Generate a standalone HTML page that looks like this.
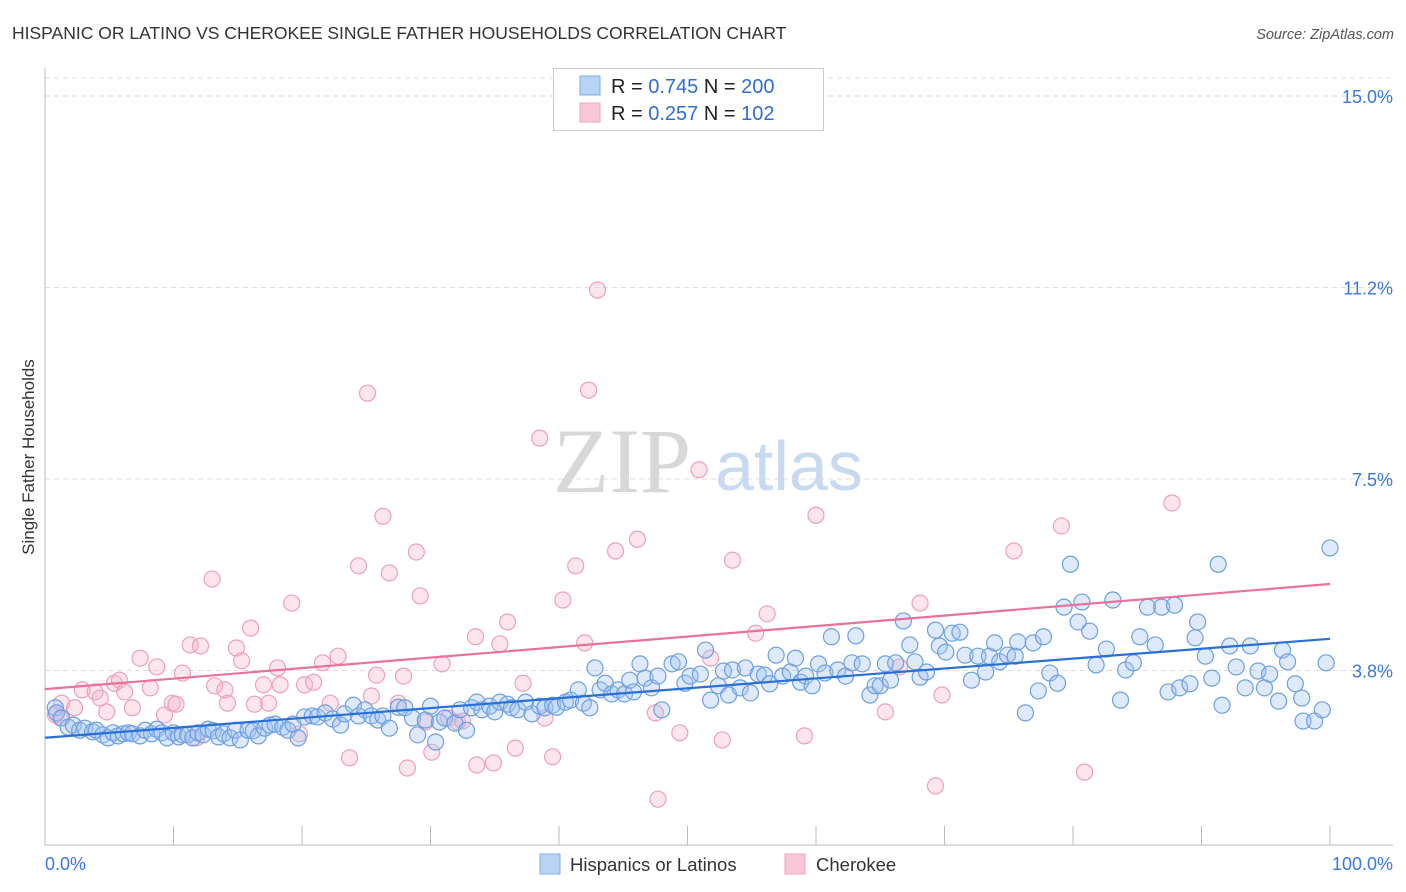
<!DOCTYPE html>
<html><head><meta charset="utf-8"><style>
body{margin:0;background:#fff;font-family:"Liberation Sans",sans-serif}
svg{display:block}
</style></head><body>
<svg id="chart" width="1406" height="892" viewBox="0 0 1406 892">
<text x="12" y="39" font-size="17.5" fill="#333">HISPANIC OR LATINO VS CHEROKEE SINGLE FATHER HOUSEHOLDS CORRELATION CHART</text>
<text x="1394" y="39" font-size="14.5" fill="#555" font-style="italic" text-anchor="end">Source: ZipAtlas.com</text>
<text transform="translate(34,457) rotate(-90)" font-size="17" fill="#333" text-anchor="middle">Single Father Households</text>
<g>
<text x="553" y="492" font-size="92" font-family="Liberation Serif,serif" fill="#d8d8d8">ZIP</text>
<text x="715" y="490" font-size="70" fill="#c8daf2">atlas</text>
</g>
<g id="grid"></g>
<g id="axes"></g>
<g id="pinkPts"></g>
<g id="bluePts"></g>
<g id="lines"></g>
<g>
<rect x="553.5" y="68.5" width="270" height="62" fill="#fff" stroke="#ccc"/>
<rect x="580" y="76" width="20" height="19" fill="#b9d3f5" stroke="#7eaee8"/>
<rect x="580" y="103" width="20" height="19" fill="#f8c6d6" stroke="#eea5bd"/>
<text x="611" y="93" font-size="20" fill="#222">R = <tspan fill="#2f6fd0">0.745</tspan>   N = <tspan fill="#2f6fd0">200</tspan></text>
<text x="611" y="120" font-size="20" fill="#222">R = <tspan fill="#2f6fd0">0.257</tspan>   N =  <tspan fill="#2f6fd0">102</tspan></text>
</g>
<g>
<rect x="540" y="854" width="20" height="20" fill="#b9d3f5" stroke="#7eaee8"/>
<text x="570" y="871" font-size="18.5" fill="#333">Hispanics or Latinos</text>
<rect x="785" y="854" width="20" height="20" fill="#f8c6d6" stroke="#eea5bd"/>
<text x="816" y="871" font-size="18.5" fill="#333">Cherokee</text>
</g>
</svg>
<script>
const yTicks=[3.8,7.5,11.2,15.0];
const yTickVals=[3.75,7.5,11.25,15.0];
const xTickLabels=["0.0%","100.0%"];
const blueX=[0.8,0.9,1.3,1.8,2.2,2.7,3.1,3.7,4.0,4.5,4.9,5.3,5.7,6.1,6.5,6.8,7.4,7.8,8.3,8.7,9.1,9.5,10.0,10.4,10.7,11.1,11.5,11.9,12.3,12.7,13.1,13.5,13.9,14.4,14.8,15.2,15.8,16.2,16.6,17.1,17.5,17.9,18.5,18.9,19.3,19.7,20.2,20.8,21.2,21.8,22.4,23.0,23.3,24.0,24.4,24.9,25.4,25.9,26.3,26.8,27.5,28.0,28.6,29.0,29.6,30.0,30.4,30.7,31.1,31.9,32.3,32.8,33.2,33.6,34.0,34.6,35.0,35.4,36.0,36.3,36.8,37.4,37.9,38.5,38.9,39.5,39.8,40.5,40.9,41.5,41.9,42.4,42.8,43.2,43.6,44.1,44.6,45.1,45.5,45.8,46.3,46.7,47.2,47.7,48.0,48.8,49.3,49.8,50.2,51.0,51.4,51.8,52.4,52.8,53.2,53.5,54.1,54.5,54.9,55.5,56.0,56.4,56.9,57.4,58.0,58.4,58.8,59.2,59.7,60.2,60.7,61.2,61.7,62.3,62.8,63.1,63.6,64.2,64.6,65.0,65.4,65.8,66.2,66.8,67.3,67.7,68.1,68.6,69.3,69.6,70.1,70.6,71.2,71.6,72.1,72.6,73.2,73.5,73.9,74.3,74.9,75.5,75.7,76.3,76.9,77.3,77.7,78.2,78.8,79.3,79.8,80.4,80.7,81.3,81.8,82.6,83.1,83.7,84.1,84.7,85.2,85.8,86.4,86.9,87.4,87.9,88.3,89.1,89.5,89.7,90.3,90.8,91.3,91.6,92.2,92.7,93.4,93.8,94.4,94.9,95.3,96.0,96.3,96.7,97.3,97.8,97.9,98.8,99.4,99.7,100.0];
const blueY=[3.02,2.92,2.82,2.64,2.68,2.58,2.62,2.55,2.58,2.49,2.43,2.53,2.47,2.51,2.53,2.51,2.47,2.58,2.51,2.60,2.53,2.43,2.53,2.45,2.49,2.49,2.43,2.53,2.49,2.60,2.57,2.45,2.51,2.43,2.58,2.39,2.58,2.57,2.47,2.62,2.68,2.70,2.64,2.58,2.70,2.43,2.84,2.86,2.84,2.92,2.80,2.68,2.90,3.07,2.86,2.98,2.86,2.78,2.86,2.62,3.03,3.02,2.82,2.49,2.78,3.05,2.35,2.74,2.82,2.72,2.98,2.58,3.02,3.13,2.98,3.05,2.94,3.13,3.09,3.02,2.98,3.13,2.90,3.05,3.02,3.07,3.03,3.13,3.17,3.37,3.11,3.02,3.80,3.37,3.50,3.29,3.37,3.29,3.56,3.33,3.88,3.60,3.41,3.64,2.98,3.88,3.92,3.50,3.64,3.68,4.15,3.17,3.45,3.74,3.27,3.76,3.41,3.80,3.31,3.68,3.66,3.49,4.05,3.64,3.72,3.99,3.52,3.64,3.45,3.88,3.70,4.41,3.76,3.64,3.90,4.43,3.88,3.27,3.45,3.45,3.88,3.56,3.90,4.72,4.25,3.92,3.62,3.72,4.54,4.23,4.11,4.48,4.50,4.05,3.56,4.03,3.72,4.03,4.29,3.92,4.05,4.03,4.31,2.92,4.29,3.35,4.41,3.70,3.50,4.99,5.83,4.70,5.09,4.52,3.86,4.17,5.13,3.17,3.76,3.90,4.41,4.99,4.25,4.99,3.33,5.03,3.41,3.49,4.39,4.70,4.03,3.60,5.83,3.07,4.23,3.82,3.41,4.23,3.74,3.41,3.68,3.15,4.15,3.92,3.49,3.21,2.76,2.76,2.98,3.90,6.15];
const pinkX=[0.8,1.3,1.2,2.3,2.9,3.9,4.3,4.8,5.4,5.8,6.2,6.8,7.4,8.2,8.7,9.3,9.9,10.2,10.7,11.3,12.1,11.8,13.0,13.2,14.0,14.2,14.9,15.3,16.0,16.3,17.0,17.4,18.1,18.3,19.2,19.8,20.2,20.9,21.6,22.2,22.8,23.7,24.4,25.1,25.4,25.8,26.3,26.8,27.5,27.9,28.2,28.9,29.2,29.6,30.1,30.9,31.4,32.1,32.5,33.5,33.6,34.9,35.4,36.0,36.6,37.2,38.5,38.9,39.5,40.3,41.3,42.0,42.3,43.0,44.4,46.1,47.5,47.7,49.4,50.9,51.8,52.7,53.5,55.3,56.2,59.1,60.0,65.4,66.5,68.1,69.3,69.8,75.4,79.1,80.9,87.7];
const pinkY=[2.88,3.11,2.82,3.02,3.37,3.33,3.21,2.94,3.50,3.56,3.33,3.02,3.99,3.41,3.82,2.88,3.11,3.09,3.70,4.25,4.23,2.43,5.54,3.45,3.37,3.11,4.19,3.94,4.58,3.09,3.47,3.11,3.80,3.47,5.07,2.51,3.47,3.52,3.90,3.11,4.03,2.04,5.80,9.18,3.25,3.66,6.77,5.66,3.11,3.64,1.84,6.07,5.21,2.74,2.15,3.88,2.82,2.74,2.76,4.41,1.90,1.94,4.27,4.70,2.23,3.50,8.30,2.82,2.06,5.13,5.80,4.29,9.24,11.20,6.09,6.32,2.92,1.23,2.53,7.68,3.99,2.39,5.91,4.48,4.86,2.47,6.79,2.94,3.82,5.07,1.49,3.27,6.09,6.58,1.76,7.03];
const NS="http://www.w3.org/2000/svg";
const X0=45,X1=1330,Y0=862,PPU=51.07;
function sx(v){return X0+(X1-X0)*v/100;}
function sy(v){return Y0-v*PPU;}
function mk(tag,attrs,parent){const e=document.createElementNS(NS,tag);for(const k in attrs)e.setAttribute(k,attrs[k]);parent.appendChild(e);return e;}
const grid=document.getElementById('grid'),axes=document.getElementById('axes');
let gl=mk('line',{x1:45,x2:1393,y1:78,y2:78,stroke:'#ddd','stroke-dasharray':'5,4'},grid);


yTickVals.forEach((v,i)=>{
 const l=mk('line',{x1:45,x2:1393,y1:sy(v),y2:sy(v),stroke:'#ddd','stroke-dasharray':'5,4'},grid);
 
 
 const t=mk('text',{x:1393,y:sy(v)+7,'font-size':18,fill:'#3b78d8','text-anchor':'end'},axes);
 t.textContent=yTicks[i].toFixed(1)+'%';
 
 
});
let ax=mk('line',{x1:45,x2:45,y1:68,y2:845,stroke:'#bbb'},axes);


let bx=mk('line',{x1:45,x2:1393,y1:845,y2:845,stroke:'#bbb'},axes);


for(let k=0;k<=10;k++){
 const x=sx(k*10);
 const t=mk('line',{x1:x,x2:x,y1:826,y2:845,stroke:'#bbb'},axes);
 
 
}
[[0,'start',45],[100,'end',1393]].forEach((d,i)=>{
 const t=mk('text',{x:d[2],y:870,'font-size':18,fill:'#3b78d8','text-anchor':d[1]},axes);
 t.textContent=xTickLabels[i];
 
 
});
function pts(xs,ys,g,fill,stroke,name){
 xs.forEach((x,i)=>{
  const c=mk('circle',{cx:sx(x),cy:sy(ys[i]),r:8,fill:fill,stroke:stroke,'stroke-width':1.2},g);
  
  
 });
}
pts(pinkX,pinkY,document.getElementById('pinkPts'),'rgba(246,180,202,0.35)','#eea0b9','cherokee-point');
pts(blueX,blueY,document.getElementById('bluePts'),'rgba(160,196,240,0.35)','#6c9fe2','hispanic-point');
function reg(xs,ys){const n=xs.length;let mx=0,my=0;for(let i=0;i<n;i++){mx+=xs[i];my+=ys[i];}mx/=n;my/=n;let a=0,b=0;for(let i=0;i<n;i++){a+=(xs[i]-mx)*(ys[i]-my);b+=(xs[i]-mx)**2;}const s=a/b;return [my-s*mx,s];}
const lg=document.getElementById('lines');
[[pinkX,pinkY,'#e8729c','cherokee-trendline'],[blueX,blueY,'#2a6fd6','hispanic-trendline']].forEach(d=>{
 const [b0,b1]=reg(d[0],d[1]);
 const l=mk('line',{x1:sx(0),y1:sy(b0),x2:sx(100),y2:sy(b0+100*b1),stroke:d[2],'stroke-width':2.2},lg);
 
 
});
</script>
</body></html>
